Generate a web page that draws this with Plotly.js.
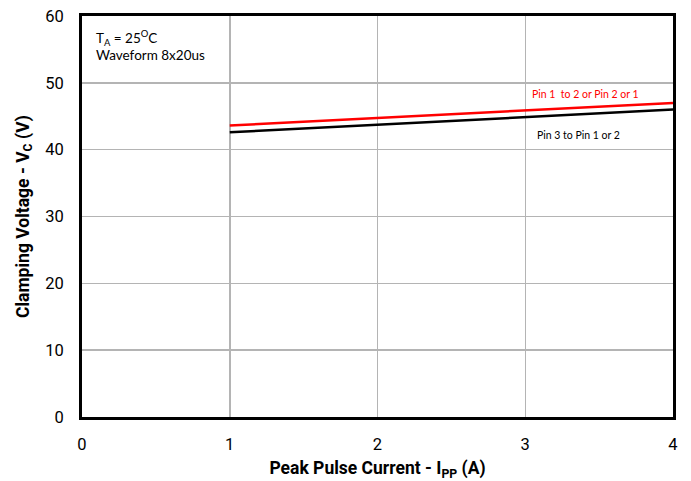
<!DOCTYPE html>
<html><head><meta charset="utf-8">
<script src="https://cdn.plot.ly/plotly-3.0.1.min.js"></script>
<style>body{margin:0;background:#fff}#c{width:691px;height:481px}</style>
</head><body><div id="c"></div>
<script>
const currentA = [1, 2, 3, 4];
const vPin12 = [43.6, 44.7, 45.8, 47.0];
const vPin3 = [42.6, 43.7, 44.8, 46.0];
const xTicks = [0, 1, 2, 3, 4];
const yTicks = [0, 10, 20, 30, 40, 50, 60];

const SANS = 'Roboto';
const NOTE = 'Lato';

const traces = [
  {x: currentA, y: vPin12, mode: 'lines', line: {color: '#ff0000', width: 2.5}, name: 'Pin 1 to 2 or Pin 2 or 1'},
  {x: currentA, y: vPin3, mode: 'lines', line: {color: '#000000', width: 2.5}, name: 'Pin 3 to Pin 1 or 2'}
];
const axisCommon = {
  showline: true, mirror: true, linecolor: '#000', linewidth: 3,
  showgrid: true, gridcolor: '#b4b4b4', gridwidth: 1.5, zeroline: false,
  tickfont: {family: SANS, size: 16.5, color: '#000'},
  ticks: '', ticklabelstandoff: 12
};
const layout = {
  width: 691, height: 481,
  margin: {l: 82, r: 18, t: 16, b: 64},
  paper_bgcolor: '#fff', plot_bgcolor: '#fff',
  showlegend: false,
  xaxis: Object.assign({}, axisCommon, {
    range: [0, 4], tickvals: xTicks, ticktext: xTicks.map(String), ticklabelstandoff: 10,
    title: {text: 'Peak Pulse Current - I<sub>PP</sub> (A)', font: {family: SANS, size: 17.5, color: '#000', weight: 'bold'}, standoff: 10}
  }),
  yaxis: Object.assign({}, axisCommon, {
    range: [0, 60], tickvals: yTicks, ticktext: yTicks.map(String),
    title: {text: 'Clamping Voltage - V<sub>C</sub> (V)', font: {family: SANS, size: 17.5, color: '#000', weight: 'bold'}, standoff: 12}
  }),
  annotations: [
    {xref: 'paper', yref: 'paper', x: 0.02, y: 0.975, xanchor: 'left', yanchor: 'top', align: 'left', showarrow: false,
     text: 'T<sub>A</sub> = 25<sup>O</sup>C<br>Waveform 8x20us', font: {family: NOTE, size: 13.5, color: '#000'}},
    {x: 3.41, y: 48.4, xref: 'x', yref: 'y', showarrow: false, text: 'Pin 1  to 2 or Pin 2 or 1',
     font: {family: NOTE, size: 10.5, color: '#ff0000'}},
    {x: 3.36, y: 42.2, xref: 'x', yref: 'y', showarrow: false, text: 'Pin 3 to Pin 1 or 2',
     font: {family: NOTE, size: 10.5, color: '#000'}}
  ]
};
Plotly.newPlot('c', traces, layout, {displayModeBar: false, staticPlot: true});
</script></body></html>
